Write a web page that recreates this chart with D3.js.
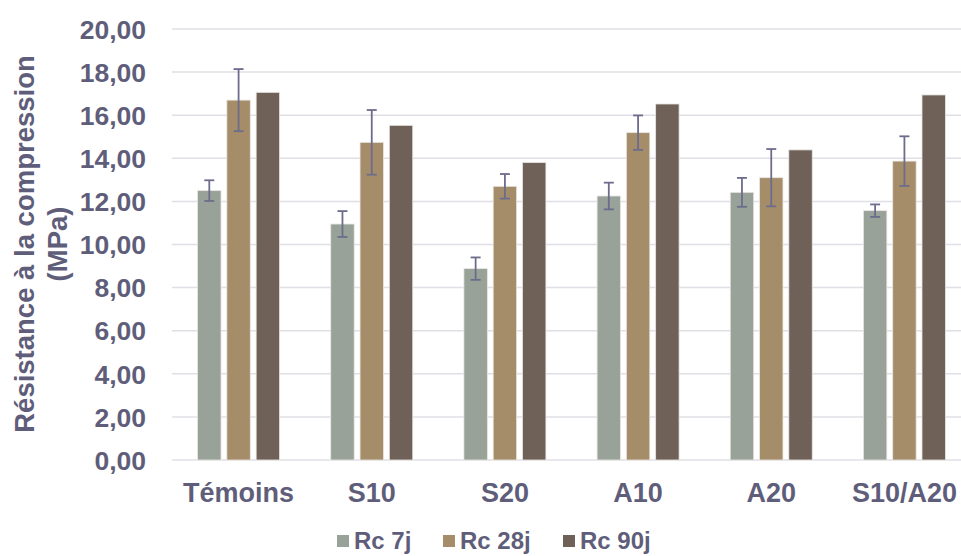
<!DOCTYPE html>
<html><head><meta charset="utf-8">
<script src="https://cdn.jsdelivr.net/npm/d3@7"></script>
<style>body{margin:0;background:#fff}svg{display:block}</style>
</head><body><svg id="c" width="961" height="556"></svg>
<script>
const categories = ["Témoins","S10","S20","A10","A20","S10/A20"];
const seriesNames = ["Rc 7j","Rc 28j","Rc 90j"];
const rc7 = [12.50,10.95,8.88,12.25,12.42,11.57];
const rc28 = [16.70,14.74,12.70,15.19,13.10,13.87];
const rc90 = [17.06,15.53,13.80,16.52,14.39,16.94];
const err7 = [0.48,0.60,0.52,0.62,0.67,0.29];
const err28 = [1.44,1.50,0.57,0.80,1.33,1.15];
const err90 = [null,null,null,null,null,null];
const yTicks = [0,2,4,6,8,10,12,14,16,18,20];
const colors = ["#98a299","#a68d69","#6f6157"];
const textColor = "#5f5e7a";

const values = [rc7, rc28, rc90];
const errs = [err7, err28, err90];

const svg = d3.select("#c");
const font = "'Liberation Sans', Arial, sans-serif";
const x0 = d3.scaleBand().domain(categories).range([172, 971]).paddingInner(0).paddingOuter(0);
const y = d3.scaleLinear().domain([0,20]).range([460, 29]);
const groupW = 82;
const x1 = d3.scaleBand().domain(seriesNames).range([0, groupW]).paddingInner(0.2).paddingOuter(0);

// grid
svg.append("g").selectAll("line").data(yTicks).join("line")
  .attr("x1",172).attr("x2",961)
  .attr("y1",d=>y(d)).attr("y2",d=>y(d))
  .attr("stroke","#e0dfe6").attr("stroke-width",1.5);

// y axis labels
const yAxis = d3.axisLeft(y).tickValues(yTicks).tickSize(0).tickPadding(0)
  .tickFormat(d=>d3.format(".2f")(d).replace(".",","));
const ya = svg.append("g").attr("transform","translate(146,0)").call(yAxis);
ya.select(".domain").remove();
ya.selectAll("text").attr("fill",textColor).style("font-family",font).style("font-weight","bold").style("font-size","26.5px").attr("dy","0.35em");

// bars
const groups = svg.append("g").selectAll("g").data(categories).join("g")
  .attr("transform",c=>`translate(${x0(c)+x0.bandwidth()/2-groupW/2},0)`);
seriesNames.forEach((s,si)=>{
  groups.append("rect")
    .attr("x",x1(s)).attr("width",x1.bandwidth())
    .attr("y",(c,i)=>y(values[si][i])).attr("height",(c,i)=>y(0)-y(values[si][i]))
    .attr("fill",colors[si]).attr("stroke","#e8e6e2").attr("stroke-width",0.8);
});
// error bars
seriesNames.forEach((s,si)=>{
  const cx = x1(s)+x1.bandwidth()/2;
  groups.each(function(c,i){
    const e = errs[si][i]; if(e==null) return;
    const v = values[si][i];
    const g = d3.select(this).append("g").attr("stroke","#6d6c8c").attr("stroke-width",1.8);
    g.append("line").attr("x1",cx).attr("x2",cx).attr("y1",y(v+e)).attr("y2",y(v-e));
    g.append("line").attr("x1",cx-5).attr("x2",cx+5).attr("y1",y(v+e)).attr("y2",y(v+e));
    g.append("line").attr("x1",cx-5).attr("x2",cx+5).attr("y1",y(v-e)).attr("y2",y(v-e));
  });
});

// x axis labels
const xAxis = d3.axisBottom(x0).tickSize(0).tickPadding(0);
const xa = svg.append("g").attr("transform","translate(0,492.5)").call(xAxis);
xa.select(".domain").remove();
xa.selectAll("text").attr("fill",textColor).style("font-family",font).style("font-weight","bold").style("font-size","27px").attr("dy","0.35em").attr("y",0);

// y title
const yt = svg.append("text").attr("transform","translate(41,244) rotate(-90)")
  .attr("text-anchor","middle").attr("fill",textColor)
  .style("font-family",font).style("font-weight","bold").style("font-size","27.5px");
yt.append("tspan").attr("x",0).attr("y",-16.5).attr("dy","0.35em").text("Résistance à la compression");
yt.append("tspan").attr("x",0).attr("y",16.5).attr("dy","0.35em").text("(MPa)");

// legend
const legX = [337,443,563];
const leg = svg.append("g").selectAll("g").data(seriesNames).join("g")
  .attr("transform",(d,i)=>`translate(${legX[i]},541)`);
leg.append("rect").attr("x",0).attr("y",-6).attr("width",12).attr("height",12).attr("fill",(d,i)=>colors[i]);
leg.append("text").attr("x",17).attr("dy","0.35em").text(d=>d).attr("fill",textColor)
  .style("font-family",font).style("font-weight","bold").style("font-size","24px");
</script></body></html>
